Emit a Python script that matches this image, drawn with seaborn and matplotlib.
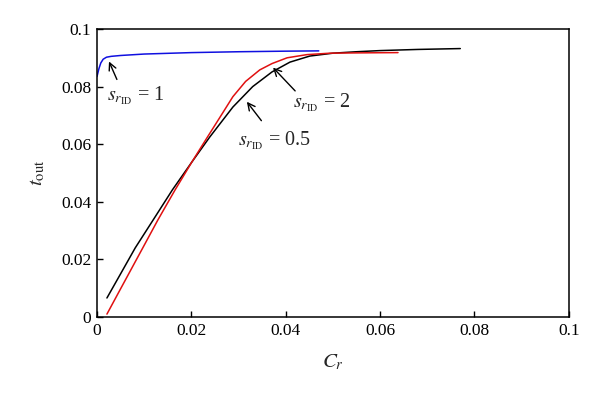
import matplotlib
matplotlib.use("Agg")
import matplotlib.pyplot as plt
import seaborn as sns
import pandas as pd

# s_rID = 1 (blue)
cr_s1 = [0.0, 0.0004, 0.0008, 0.0013, 0.002, 0.003, 0.005, 0.01, 0.02, 0.03, 0.04, 0.047]
t_s1 = [0.0835, 0.0862, 0.0882, 0.0895, 0.0902, 0.0905, 0.0908, 0.0913, 0.0918, 0.0921, 0.0923, 0.0924]

# s_rID = 0.5 (black)
cr_s05 = [0.0021, 0.005, 0.0081, 0.0119, 0.016, 0.0201, 0.0239, 0.0288, 0.033, 0.0371,
          0.0409, 0.0451, 0.050, 0.055, 0.060, 0.068, 0.077]
t_s05 = [0.0066, 0.0150, 0.0240, 0.0337, 0.0442, 0.0538, 0.0625, 0.0729, 0.0800, 0.0851,
         0.0885, 0.0906, 0.0916, 0.0921, 0.0925, 0.0929, 0.0932]

# s_rID = 2 (red)
cr_s2 = [0.0021, 0.005, 0.0097, 0.0129, 0.0165, 0.0201, 0.0233, 0.026, 0.0288, 0.0315,
         0.0345, 0.0371, 0.0403, 0.0445, 0.0494, 0.055, 0.0638]
t_s2 = [0.001, 0.0098, 0.0240, 0.0337, 0.0440, 0.0538, 0.0622, 0.0692, 0.0765, 0.0818,
        0.0858, 0.0880, 0.0900, 0.0911, 0.0916, 0.0917, 0.0918]

x_ticks = [0, 0.02, 0.04, 0.06, 0.08, 0.1]
y_ticks = [0, 0.02, 0.04, 0.06, 0.08, 0.1]
tick_labels = ["0", "0.02", "0.04", "0.06", "0.08", "0.1"]

sns.set_style("ticks")
plt.rcParams["font.family"] = ["Liberation Serif", "DejaVu Serif"]
plt.rcParams["mathtext.fontset"] = "stix"
plt.rcParams["xtick.direction"] = "in"
plt.rcParams["ytick.direction"] = "in"

fig = plt.figure(figsize=(6, 3.96), dpi=100)
ax = fig.add_axes([0.1617, 0.1995, 0.7863, 0.7273])

df1 = pd.DataFrame({"Cr": cr_s1, "t": t_s1})
df05 = pd.DataFrame({"Cr": cr_s05, "t": t_s05})
df2 = pd.DataFrame({"Cr": cr_s2, "t": t_s2})
sns.lineplot(data=df1, x="Cr", y="t", color="#1010e0", lw=1.1, ax=ax, sort=False)
sns.lineplot(data=df05, x="Cr", y="t", color="black", lw=1.1, ax=ax, sort=False)
sns.lineplot(data=df2, x="Cr", y="t", color="#e01010", lw=1.1, ax=ax, sort=False)

ax.set_xlim(0, 0.1)
ax.set_ylim(0, 0.1)
ax.set_xticks(x_ticks)
ax.set_xticklabels(tick_labels)
ax.set_yticks(y_ticks)
ax.set_yticklabels(tick_labels)
ax.tick_params(labelsize=12.5, length=4, width=1, colors="black", pad=4)
for s in ax.spines.values():
    s.set_linewidth(1.1)
    s.set_color("black")

ax.set_xlabel(r"$C_r$", fontsize=15, labelpad=10)
ax.set_ylabel(r"$t_{\rm out}$", fontsize=15, labelpad=10)

lab = r"$s_{r_{\rm ID}}$ = "
arrowprops = dict(arrowstyle="->", color="black", lw=1.0, mutation_scale=13)
ax.text(0.0021, 0.0753, lab + "1", fontsize=14.5, ha="left", va="baseline")
ax.annotate("", xy=(0.0023, 0.0896), xytext=(0.00445, 0.0816), arrowprops=arrowprops)
ax.text(0.0415, 0.0729, lab + "2", fontsize=14.5, ha="left", va="baseline")
ax.annotate("", xy=(0.0369, 0.0873), xytext=(0.0424, 0.0778), arrowprops=arrowprops)
ax.text(0.0299, 0.0597, lab + "0.5", fontsize=14.5, ha="left", va="baseline")
ax.annotate("", xy=(0.0314, 0.0755), xytext=(0.0352, 0.0674), arrowprops=arrowprops)

fig.savefig("out.png", dpi=100)
